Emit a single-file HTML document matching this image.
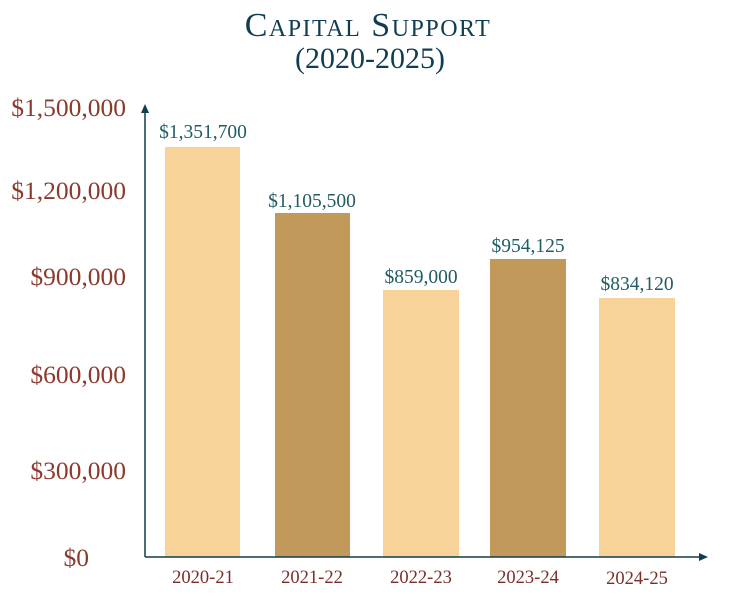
<!DOCTYPE html>
<html><head><style>
body{margin:0;background:#fff;}
svg{display:block;}
</style></head><body>
<svg width="734" height="607" viewBox="0 0 734 607" xmlns="http://www.w3.org/2000/svg" font-family="Liberation Serif, serif">
<text x="368" y="36" text-anchor="middle" fill="#0f3d52" font-size="34" style="font-variant:small-caps" letter-spacing="1.5">Capital Support</text>
<text x="370" y="68" text-anchor="middle" fill="#0f3d52" font-size="30">(2020-2025)</text>
<g fill="#8b3a2e" font-size="25.5" text-anchor="end">
<text x="126" y="116">$1,500,000</text>
<text x="126" y="199">$1,200,000</text>
<text x="126" y="285">$900,000</text>
<text x="126" y="383">$600,000</text>
<text x="126" y="479">$300,000</text>
<text x="89" y="566">$0</text>
</g>
<g>
<rect x="165" y="147" width="75" height="410" fill="#f7d399"/>
<rect x="275" y="213" width="75" height="344" fill="#c19a5b"/>
<rect x="383" y="290" width="76" height="267" fill="#f7d399"/>
<rect x="490" y="259" width="76" height="298" fill="#c19a5b"/>
<rect x="599" y="298" width="76" height="259" fill="#f7d399"/>
</g>
<g stroke="#0f3d52" stroke-width="1.5" fill="#0f3d52">
<line x1="145" y1="108" x2="145" y2="557"/>
<line x1="145" y1="557" x2="702" y2="557"/>
<polygon points="145,104 141,113 149,113" stroke="none"/>
<polygon points="708,557 699,553 699,561" stroke="none"/>
</g>
<g fill="#1f5c63" font-size="19.5" text-anchor="middle">
<text x="203" y="138">$1,351,700</text>
<text x="312" y="207">$1,105,500</text>
<text x="421" y="283">$859,000</text>
<text x="528" y="252">$954,125</text>
<text x="637" y="290">$834,120</text>
</g>
<g fill="#7a2e28" font-size="18.5" text-anchor="middle">
<text x="203" y="583">2020-21</text>
<text x="312" y="583">2021-22</text>
<text x="421" y="583">2022-23</text>
<text x="528" y="583">2023-24</text>
<text x="637" y="584">2024-25</text>
</g>
</svg>
</body></html>
